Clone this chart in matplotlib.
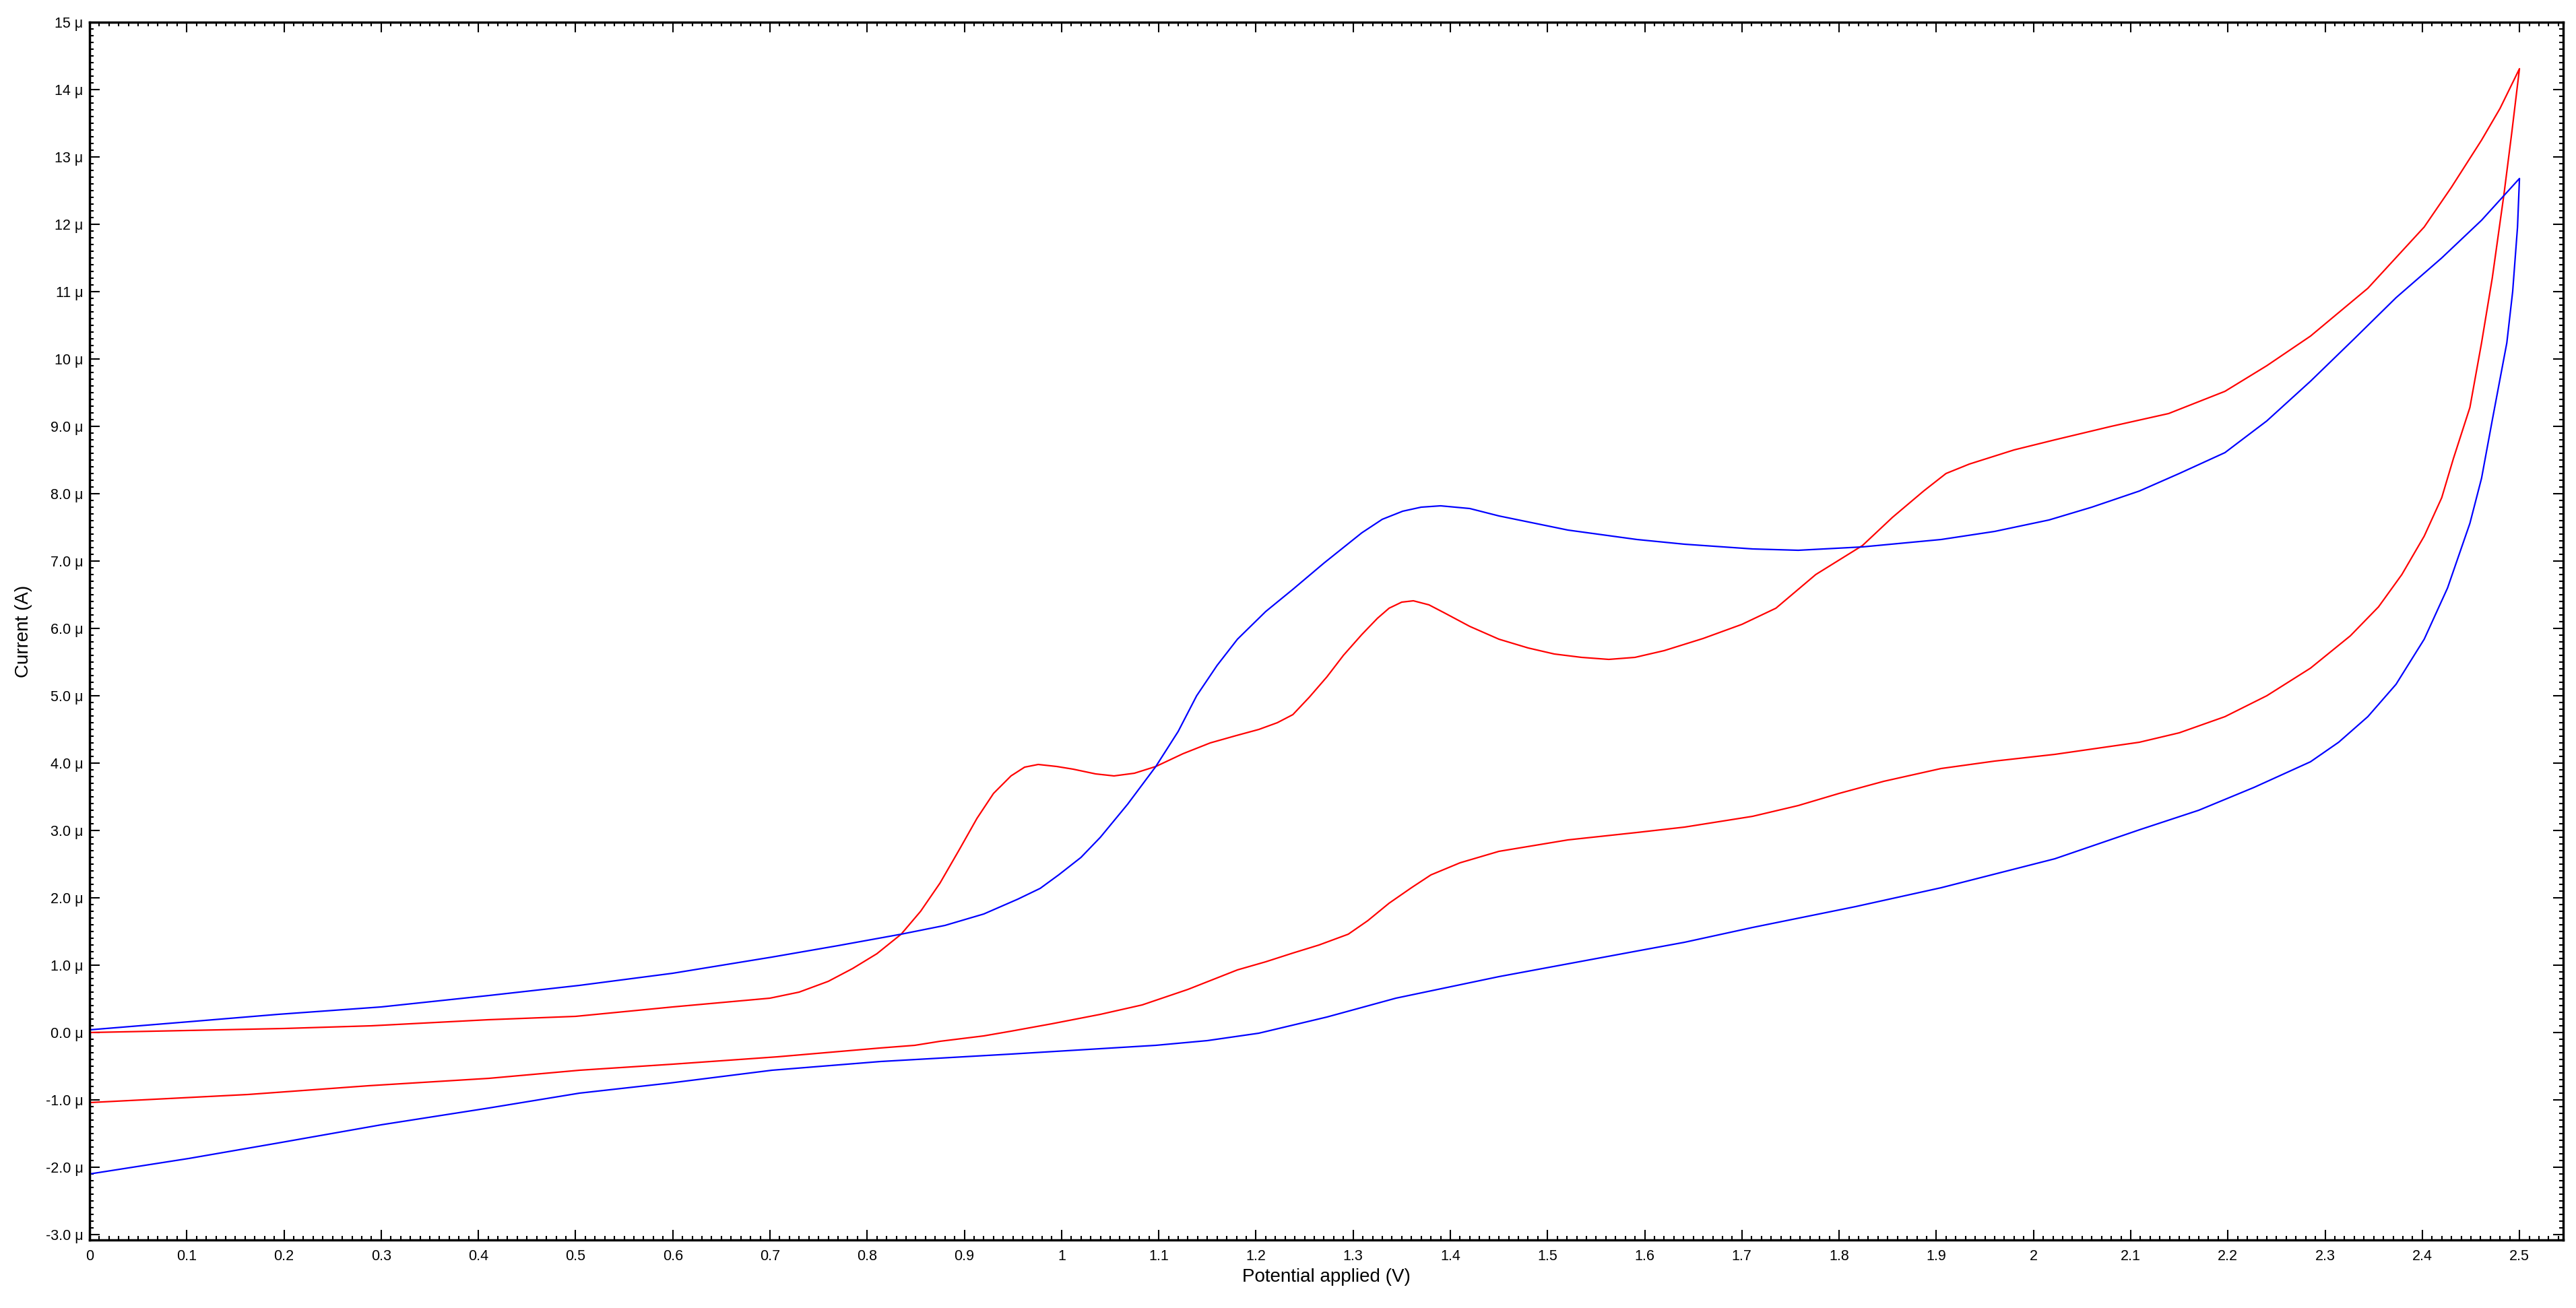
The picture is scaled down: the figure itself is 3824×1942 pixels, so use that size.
import numpy as np
import matplotlib
matplotlib.use("Agg")
import matplotlib.pyplot as plt
from matplotlib.ticker import MultipleLocator, FuncFormatter

plt.rcParams['font.family'] = ['Liberation Sans', 'DejaVu Sans']

# red loop: forward scan (0 -> 2.5 V) then reverse scan (2.5 -> 0 V), current in uA
red_fwd_v = [0.00, 0.10, 0.20, 0.29, 0.41, 0.50, 0.60, 0.70, 0.73, 0.76, 0.785, 0.81, 0.835,
             0.855, 0.875, 0.895, 0.913, 0.93, 0.948, 0.962, 0.976, 0.995, 1.012, 1.035, 1.054,
             1.075, 1.097, 1.125, 1.153, 1.18, 1.203, 1.222, 1.238, 1.255, 1.273, 1.29,
             1.309, 1.325, 1.337, 1.35, 1.362, 1.378, 1.394, 1.42, 1.45, 1.48, 1.507,
             1.535, 1.563, 1.59, 1.62, 1.66, 1.70, 1.735, 1.776, 1.824, 1.855, 1.887,
             1.91, 1.934, 1.98, 2.022, 2.08, 2.139, 2.197, 2.24, 2.285, 2.344, 2.402,
             2.43, 2.461, 2.48, 2.50]
red_fwd_i = [0.00, 0.03, 0.06, 0.10, 0.19, 0.24, 0.38, 0.51, 0.60, 0.76, 0.95, 1.17, 1.46,
             1.80, 2.22, 2.72, 3.18, 3.55, 3.81, 3.94, 3.98, 3.95, 3.91, 3.84, 3.81,
             3.85, 3.95, 4.14, 4.30, 4.41, 4.50, 4.60, 4.72, 4.98, 5.28, 5.60,
             5.91, 6.15, 6.30, 6.39, 6.41, 6.35, 6.23, 6.03, 5.84, 5.71, 5.62,
             5.57, 5.54, 5.57, 5.67, 5.85, 6.06, 6.30, 6.80, 7.23, 7.65, 8.04,
             8.30, 8.44, 8.65, 8.80, 9.00, 9.19, 9.52, 9.90, 10.34, 11.05, 11.96,
             12.55, 13.25, 13.72, 14.31]
red_rev_v = [2.50, 2.492, 2.484, 2.472, 2.461, 2.449, 2.432, 2.42, 2.402, 2.379, 2.355,
             2.326, 2.285, 2.24, 2.197, 2.15,
             2.109, 2.022, 1.96, 1.905, 1.846, 1.80, 1.758, 1.711, 1.641, 1.592, 1.521,
             1.45, 1.41, 1.38, 1.36, 1.337, 1.315, 1.295, 1.265, 1.238, 1.21, 1.181,
             1.13, 1.083, 1.04, 0.99, 0.948, 0.92, 0.875, 0.849, 0.813, 0.708, 0.60,
             0.504, 0.411, 0.287, 0.163, 0.00]
red_rev_i = [14.31, 13.35, 12.44, 11.20, 10.24, 9.28, 8.52, 7.94, 7.37, 6.80, 6.32,
             5.89, 5.41, 5.00, 4.69, 4.45,
             4.31, 4.13, 4.03, 3.92, 3.73, 3.55, 3.37, 3.21, 3.05, 2.97, 2.86,
             2.69, 2.52, 2.34, 2.15, 1.92, 1.66, 1.46, 1.30, 1.18, 1.05, 0.93,
             0.64, 0.41, 0.27, 0.13, 0.02, -0.05, -0.13, -0.19, -0.23, -0.36, -0.47,
             -0.56, -0.68, -0.79, -0.92, -1.04]

# blue loop
blue_fwd_v = [0.00, 0.102, 0.194, 0.30, 0.411, 0.504, 0.60, 0.702, 0.77, 0.835, 0.88, 0.92,
              0.955, 0.978, 0.997, 1.02, 1.04, 1.068, 1.097, 1.12, 1.139, 1.16, 1.181, 1.21,
              1.238, 1.27, 1.309, 1.33, 1.351, 1.37, 1.39, 1.42, 1.45, 1.521, 1.592, 1.641,
              1.711, 1.758, 1.824, 1.905, 1.96, 2.016, 2.06, 2.109, 2.15, 2.197, 2.24,
              2.285, 2.33, 2.373, 2.42, 2.461, 2.50]
blue_fwd_i = [0.04, 0.16, 0.27, 0.38, 0.55, 0.70, 0.88, 1.12, 1.29, 1.46, 1.59, 1.76,
              1.98, 2.14, 2.34, 2.60, 2.90, 3.39, 3.95, 4.47, 5.00, 5.45, 5.84, 6.25,
              6.58, 6.97, 7.42, 7.62, 7.74, 7.80, 7.82, 7.78, 7.67, 7.46, 7.32, 7.25,
              7.18, 7.16, 7.21, 7.32, 7.44, 7.61, 7.80, 8.04, 8.30, 8.61, 9.08,
              9.67, 10.30, 10.91, 11.50, 12.06, 12.68]
blue_rev_v = [2.50, 2.498, 2.493, 2.487, 2.472, 2.461, 2.449, 2.426, 2.402, 2.373, 2.344,
              2.314, 2.285, 2.227, 2.17, 2.109, 2.022,
              1.905, 1.817, 1.711, 1.641, 1.592, 1.45, 1.344, 1.273, 1.203, 1.15, 1.097,
              0.948, 0.814, 0.702, 0.597, 0.504, 0.411, 0.30, 0.194, 0.102, 0.00]
blue_rev_i = [12.68, 11.96, 11.00, 10.24, 9.09, 8.23, 7.56, 6.60, 5.84, 5.17, 4.69,
              4.31, 4.02, 3.64, 3.30, 3.01, 2.58,
              2.15, 1.87, 1.56, 1.34, 1.21, 0.83, 0.51, 0.23, -0.01, -0.12, -0.19,
              -0.32, -0.43, -0.56, -0.75, -0.90, -1.12, -1.37, -1.64, -1.87, -2.10]

fig = plt.figure(figsize=(38.24, 19.42), dpi=100)
ax = fig.add_axes([133/3824, 1 - 1841/1942, (3805 - 133)/3824, (1841 - 33)/1942])

ax.plot(red_fwd_v + red_rev_v, red_fwd_i + red_rev_i, color='#ff0000', lw=1.6)
ax.plot(blue_fwd_v + blue_rev_v, blue_fwd_i + blue_rev_i, color='#0000ff', lw=1.6)

ax.set_xlim(0, 2.545)
ax.set_ylim(-3.08, 15)

ax.xaxis.set_major_locator(MultipleLocator(0.1))
ax.xaxis.set_minor_locator(MultipleLocator(0.01))
ax.yaxis.set_major_locator(MultipleLocator(1))
ax.yaxis.set_minor_locator(MultipleLocator(0.1))

def ylab(v, pos):
    v = round(v, 6)
    if abs(v) >= 10:
        return '%d \u03bc' % v
    return '%.1f \u03bc' % v

def xlab(v, pos):
    return '%g' % round(v, 6)

ax.yaxis.set_major_formatter(FuncFormatter(ylab))
ax.xaxis.set_major_formatter(FuncFormatter(xlab))

ax.tick_params(which='both', direction='in', top=True, right=True, width=1.5, colors='black')
ax.tick_params(which='major', length=11)
ax.tick_params(which='minor', length=4.3)
ax.tick_params(axis='x', which='major', labelsize=15.5, pad=10)
ax.tick_params(axis='y', which='major', labelsize=15.5, pad=7)

for s in ax.spines.values():
    s.set_linewidth(2.5)

ax.set_xlabel('Potential applied (V)', fontsize=20, labelpad=5)
ax.set_ylabel('Current (A)', fontsize=20, labelpad=14)

fig.savefig('out.png', dpi=100, facecolor='white')
